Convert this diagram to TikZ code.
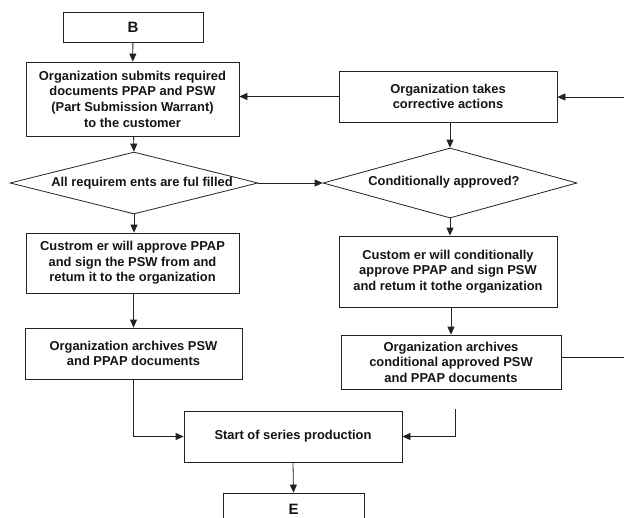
\documentclass[tikz,border=0pt]{standalone}
\usepackage{fontspec}
\setmainfont{Liberation Sans}
\usetikzlibrary{arrows.meta,shapes.geometric}
\definecolor{ln}{HTML}{222222}
\definecolor{tx}{HTML}{151515}
\tikzset{
  every picture/.style={x=1pt,y=-1pt},
  box/.style={draw=ln,line width=0.8pt,rectangle,inner sep=0pt,align=center,
    text=tx,font=\fontsize{12.9}{15.6}\selectfont\bfseries},
  dia/.style={draw=ln,line width=0.8pt,diamond,inner sep=0pt},
  lbl/.style={inner sep=0pt,text=tx,font=\fontsize{12.9}{15.6}\selectfont\bfseries},
  big/.style={font=\fontsize{15}{18}\selectfont\bfseries},
  conn/.style={draw=ln,line width=0.8pt},
  arr/.style={conn,-{Triangle[length=8pt,width=7pt]}}
}
\begin{document}
\begin{tikzpicture}
\fill[white] (0,0) rectangle (624,517);
\useasboundingbox (0,0) rectangle (624,517);
\node[box,big,minimum width=140pt,minimum height=30pt] (B) at (133,27) {B};
\node[box,minimum width=213pt,minimum height=74pt] (sub) at (132.5,99)
  {Organization submits required\\documents PPAP and PSW\\(Part Submission Warrant)\\to the customer};
\node[box,minimum width=218pt,minimum height=51pt] (corr) at (448,96.5)
  {Organization takes\\corrective actions};
\node[dia,minimum width=248pt,minimum height=62pt] (d1) at (134,183) {};
\node[lbl] (t1) at (142,183) {All requirem ents are ful filled};
\node[dia,minimum width=254pt,minimum height=70pt] (d2) at (450,183) {};
\node[lbl] (t2) at (444,182) {Conditionally approved?};
\node[box,minimum width=213pt,minimum height=60pt] (appr) at (132.5,263)
  {Custrom er will approve PPAP\\and sign the PSW from and\\retum it to the organization};
\node[box,minimum width=217pt,minimum height=51pt] (arch) at (133.5,353.5)
  {Organization archives PSW\\and PPAP documents};
\node[box,minimum width=218pt,minimum height=71pt] (cond) at (448,271.5)
  {Custom er will conditionally\\approve PPAP and sign PSW\\and retum it tothe organization};
\node[box,minimum width=220pt,minimum height=54pt] (arch2) at (451,362)
  {Organization archives\\conditional approved PSW\\and PPAP documents};
\node[box,minimum width=218pt,minimum height=51pt] (start) at (293,436.5)
  {Start of series production};
\node[box,big,minimum width=141pt,minimum height=32pt] (E) at (293.5,509) {E};
\coordinate (rtop) at (624,97);
\coordinate (rbot) at (624,357);
\coordinate (sfree) at (455,409);
\draw[arr] (B) -- (sub);
\draw[arr] (corr.west) -- (corr.west -| sub.east);
\draw[arr] (rtop) -- (rtop -| corr.east);
\draw[arr] (sub) -- (d1.north);
\draw[arr] (d1.east) -- (d1.east -| d2.west);
\draw[arr] (corr.south -| d2.north) -- (d2.north);
\draw[arr] (d1.south) -- (appr.north -| d1.south);
\draw[arr] (appr.south -| arch.north) -- (arch.north);
\draw[arr] (d2.south) -- (cond.north -| d2.south);
\draw[arr] (cond.south -| arch2.north) -- (arch2.north);
\draw[conn] (arch2.east |- rbot) -- (rbot);
\draw[arr] (arch.south) |- (start.west);
\draw[arr] (sfree) |- (start.east);
\draw[arr] (start.south) -- (E.north);
\end{tikzpicture}
\end{document}
